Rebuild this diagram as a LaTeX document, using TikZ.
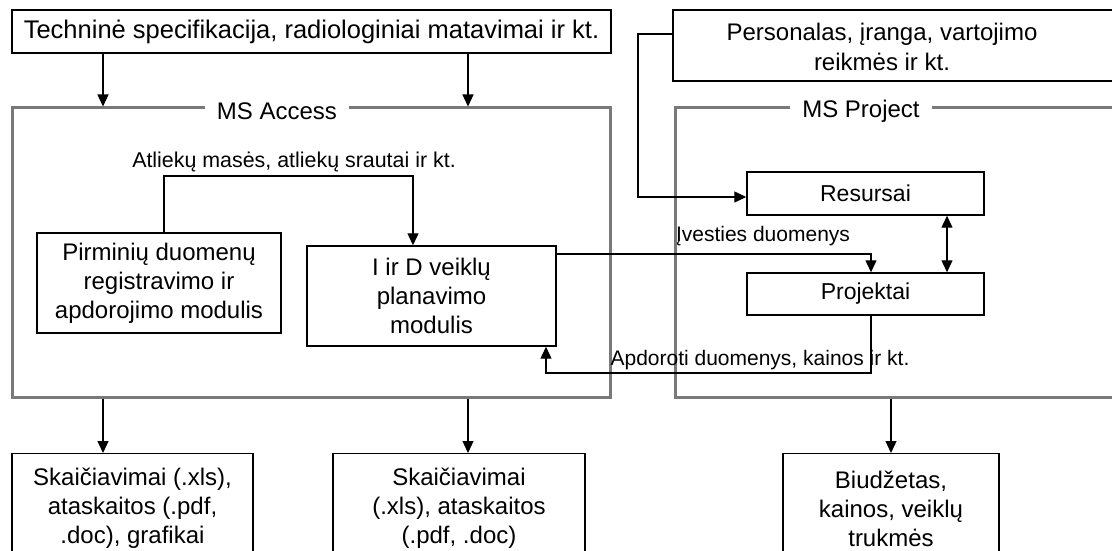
\documentclass[tikz,border=0pt]{standalone}
\usepackage{fontspec}
\setmainfont{Liberation Sans}
\usetikzlibrary{arrows.meta}
\begin{document}
\begin{tikzpicture}[x=1pt,y=-1pt,
  box/.style={draw=black, line width=1.4pt, inner sep=0pt, align=center,
    font=\fontsize{24}{29}\selectfont},
  frame/.style={draw=gray!95!black, line width=3pt, inner sep=0pt},
  frametitle/.style={fill=white, inner xsep=12pt, inner ysep=2pt, font=\fontsize{24}{29}\selectfont},
  lbl/.style={inner sep=0pt, font=\fontsize{21}{27}\selectfont},
  arr/.style={line width=1.2pt, -{Triangle[length=12pt,width=11pt]}},
  dbl/.style={line width=1.2pt, {Triangle[length=12pt,width=11pt]}-{Triangle[length=12pt,width=11pt]}}
]
\clip (0,0) rectangle (1112,551);
\useasboundingbox (0,0) rectangle (1112,551);
\fill[white] (0,0) rectangle (1112,551);

% frames
\node[frame, minimum width=598pt, minimum height=289pt] (access) at (311,252.5) {};
\node[frame, minimum width=450pt, minimum height=289pt] (project) at (900,252.5) {};
\node[frametitle] (accesst) at (277,111) {MS Access};
\node[frametitle] (projectt) at (861,111) {MS Project};

% top boxes
\node[box, minimum width=599pt, minimum height=43pt, font=\fontsize{25.5}{29}\selectfont] (tech) at (311.5,31.5) {Techninė specifikacija, radiologiniai matavimai ir kt.};
\node[box, minimum width=447pt, minimum height=71pt] (pers) at (896.5,45.5) {};
\node[align=center, inner sep=0pt, font=\fontsize{24}{30}\selectfont] (perstext) at (882,47) {Personalas, įranga, vartojimo\\reikmės ir kt.};

% inner boxes
\node[box, minimum width=244pt, minimum height=100pt] (pirm) at (159,283) {Pirminių duomenų\\registravimo ir\\apdorojimo modulis};
\node[box, minimum width=249pt, minimum height=100pt] (iird) at (431.5,296) {I ir D veiklų\\planavimo\\modulis};
\node[box, minimum width=237pt, minimum height=43pt, font=\fontsize{23}{29}\selectfont] (res) at (865.5,193.5) {Resursai};
\node[box, minimum width=237pt, minimum height=42pt, font=\fontsize{23}{29}\selectfont] (proj) at (865.5,294) {Projektai};

% bottom boxes
\node[box, anchor=north, minimum width=241pt, minimum height=110pt, inner ysep=12pt] (out1) at (132.5,453) {Skaičiavimai (.xls),\\ataskaitos (.pdf,\\.doc), grafikai};
\node[box, anchor=north, minimum width=252pt, minimum height=110pt, inner ysep=12pt] (out2) at (459,453) {Skaičiavimai\\(.xls), ataskaitos\\(.pdf, .doc)};
\node[box, anchor=north, minimum width=216pt, minimum height=110pt, inner ysep=12pt] (out3) at (891,453) {Biudžetas,\\kainos, veiklų\\trukmės};

% connectors top
\draw[arr] (tech.south -| 103,0) -- (access.north -| 103,0);
\draw[arr] (tech.south -| 468,0) -- (access.north -| 468,0);
\draw[arr] (pers.west |- 0,34) -- (638,34) |- (res.west |- 0,197);

% inner connectors
\draw[arr] (pirm.north -| 164,0) -- (164,176) -| (iird.north -| 413,0);
\node[lbl, font=\fontsize{21.4}{27}\selectfont] (atl) at (294,162) {Atliekų masės, atliekų srautai ir kt.};
\draw[arr] (iird.east |- 0,254) -| (proj.north -| 871,0);
\node[lbl] (ive) at (763,236) {Įvesties duomenys};
\draw[arr] (proj.south -| 871,0) |- (546,373) -- (iird.south -| 546,0);
\node[lbl] (apd) at (760,360) {Apdoroti duomenys, kainos ir kt.};
\draw[dbl] (res.south -| 947,0) -- (proj.north -| 947,0);

% bottom connectors
\draw[arr] (access.south -| 103,0) -- (out1.north -| 103,0);
\draw[arr] (access.south -| 468,0) -- (out2.north -| 468,0);
\draw[arr] (project.south -| 891,0) -- (out3.north);
\end{tikzpicture}
\end{document}
